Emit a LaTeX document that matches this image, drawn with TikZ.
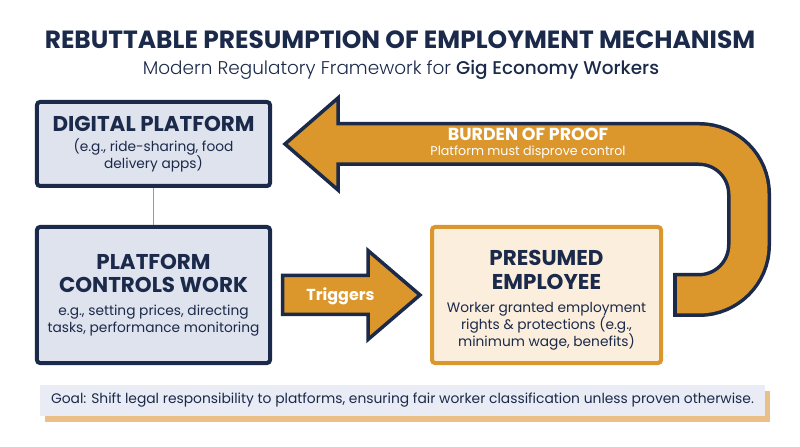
\documentclass[tikz,border=0pt]{standalone}
\usepackage{fontspec}
\usepackage{xcolor}
\usetikzlibrary{calc,shadows}
\setmainfont{Poppins}
\newfontfamily\popmed{Poppins Medium}
\newfontfamily\poplight{Poppins Light}
\definecolor{navycolor}{HTML}{1B2A4A}
\definecolor{boxcolor}{HTML}{DFE3EE}
\definecolor{orangecolor}{HTML}{DB962C}
\definecolor{creamcolor}{HTML}{FBEEDC}
\definecolor{goalcolor}{HTML}{E9ECF4}
\definecolor{shadowcolor}{HTML}{EBC088}
\definecolor{linkcolor}{HTML}{8C99AE}
\newcommand{\boxhead}[1]{{\bfseries\fontsize{21.5}{24}\selectfont #1}}

\begin{document}
\begin{tikzpicture}[x=1bp, y=-1bp,
    bluebox/.style={draw=navycolor, line width=4bp, fill=boxcolor, rounded corners=3bp, align=center, text=navycolor, inner sep=0pt, font=\fontsize{13.8}{17}\selectfont},
    orangebox/.style={draw=orangecolor, line width=4bp, fill=creamcolor, rounded corners=3bp, align=center, text=navycolor, inner sep=0pt, font=\fontsize{13.8}{17}\selectfont},
    arrowshape/.style={fill=orangecolor, draw=navycolor, line width=3.5bp, line join=miter}]
\useasboundingbox (0,0) rectangle (800,447);

% heading
\node[text=navycolor, font=\bfseries\fontsize{25}{29}\selectfont] (title) at (400,40) {REBUTTABLE PRESUMPTION OF EMPLOYMENT MECHANISM};
\node[text=navycolor, font=\fontsize{18.5}{22}\selectfont] (subtitle) at (401,70) {{\poplight Modern Regulatory Framework for} {\popmed Gig Economy Workers}};

% boxes
\node[bluebox, minimum width=233bp, minimum height=84bp] (digital) at (153.5,144)
  {\boxhead{DIGITAL PLATFORM}\\[3.5bp]
   (e.g., ride-sharing, food\\delivery apps)};
\node[bluebox, minimum width=233bp, minimum height=136bp] (controls) at (153.5,295)
  {\boxhead{PLATFORM}\\[6bp]\boxhead{CONTROLS WORK}\\[6.5bp]
   e.g., setting prices, directing\\tasks, performance monitoring};
\node[orangebox, minimum width=229bp, minimum height=136bp] (employee) at (546.5,295)
  {\rule{0pt}{26bp}\boxhead{PRESUMED}\\[7bp]\boxhead{EMPLOYEE}\\[6.5bp]
   Worker granted employment\\rights \& protections (e.g.,\\minimum wage, benefits)};
\draw[linkcolor, line width=1.3bp] (digital) -- (controls);

% triggers arrow
\coordinate (trigTail) at ($(controls.east)+(10.5,0)$);
\draw[arrowshape] (trigTail) ++(0,-19.5) -- ++(85.5,0) -- ++(0,-25) -- ++(52,44.5) -- ++(-52,44.5) -- ++(0,-25) -- ++(-85.5,0) -- cycle;
\node[text=white, font=\bfseries\fontsize{16}{19}\selectfont] (triggers) at ($(trigTail)+(58,1)$) {Triggers};

% burden of proof U arrow
\coordinate (uStart) at ($(employee.east)+(10,0)$);
\coordinate (headBack) at ($(digital.east)+(66,0)$);
\coordinate (headTip) at ($(digital.east)+(13,0)$);
\draw[navycolor, line width=44bp, rounded corners=50bp] (uStart) -- ++(76,0) |- (headBack);
\draw[arrowshape] (headTip) -- ($(headBack)+(0,-46)$) -- ($(headBack)+(0,46)$) -- cycle;
\draw[orangecolor, line width=37bp, rounded corners=50bp] ($(uStart)+(4,0)$) -- ++(72,0) |- ($(headBack)+(-2,0)$);
\node[text=white, align=center, font=\fontsize{12.7}{15}\selectfont] (burden) at (528,143)
  {{\bfseries\fontsize{17.5}{20}\selectfont BURDEN OF PROOF}\\Platform must disprove control};

% goal bar
\node[fill=goalcolor, minimum width=725bp, minimum height=31bp, text=navycolor, font=\fontsize{13.9}{17}\selectfont,
  drop shadow={shadow xshift=5bp, shadow yshift=-6bp, fill=shadowcolor, opacity=1}] (goal) at (402.5,400.5)
  {Goal: Shift legal responsibility to platforms, ensuring fair worker classification unless proven otherwise.};
\end{tikzpicture}
\end{document}
